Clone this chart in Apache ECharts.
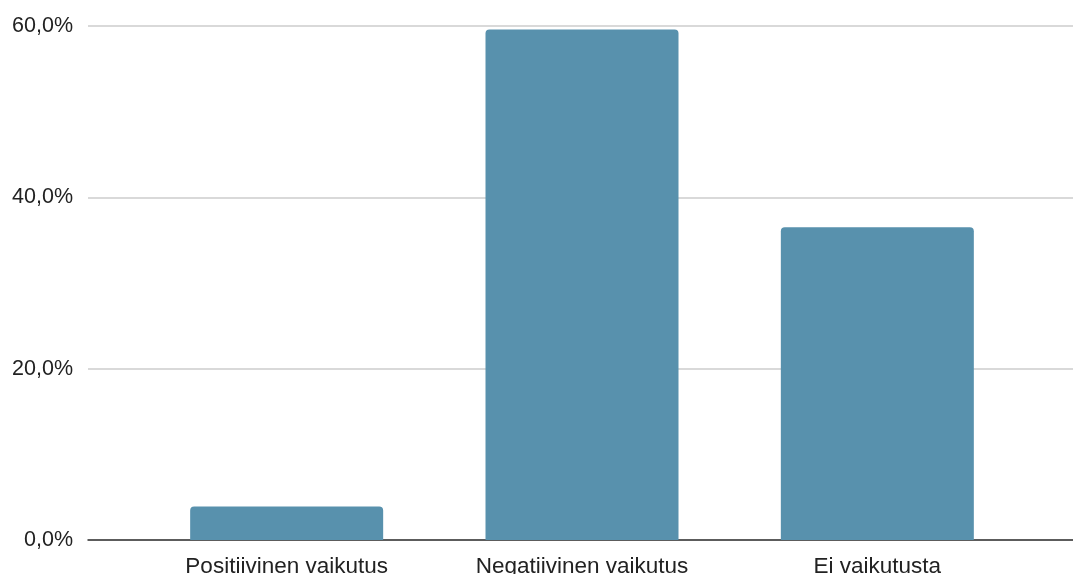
<!DOCTYPE html>
<html>
<head>
<meta charset="utf-8">
<script src="https://cdn.jsdelivr.net/npm/echarts@6/dist/echarts.min.js"></script>
<style>
  html, body { margin: 0; padding: 0; background: #fff; }
  #chart { width: 1073px; height: 574px; }
</style>
</head>
<body>
<div id="chart"></div>
<script>
// Survey answers: share of respondents per impact category
const categories = ['Positiivinen vaikutus', 'Negatiivinen vaikutus', 'Ei vaikutusta'];
const shares = [3.9, 59.6, 36.5];
const yTicks = [0, 20, 40, 60];

const fontFamily = 'Liberation Sans, Arial, sans-serif';
const fmt = v => v.toFixed(1).replace('.', ',') + '%';

const chart = echarts.init(document.getElementById('chart'));
chart.setOption({
  animation: false,
  backgroundColor: '#fff',
  grid: [
    // wide grid carries the value scale, gridlines and baseline
    { left: 88, right: 0, top: 26, bottom: 34, outerBoundsMode: 'none', containLabel: false },
    // inner grid holds the category bands and bars
    { left: 139, right: 48, top: 26, bottom: 34, outerBoundsMode: 'none', containLabel: false }
  ],
  xAxis: [
    {
      gridIndex: 0, type: 'value', min: 0, max: 1,
      axisLine: { show: true, lineStyle: { color: '#333', width: 1.5 } },
      axisTick: { show: false }, axisLabel: { show: false }, splitLine: { show: false }
    },
    {
      gridIndex: 1, type: 'category', data: categories,
      axisLine: { show: false }, axisTick: { show: false },
      axisLabel: { color: '#222', fontSize: 22.5, fontFamily, margin: 15 }
    }
  ],
  yAxis: [
    {
      gridIndex: 0, type: 'value', min: yTicks[0], max: yTicks[yTicks.length - 1], interval: 20,
      axisLine: { show: false }, axisTick: { show: false },
      axisLabel: { color: '#222', fontSize: 21.5, fontFamily, margin: 15, formatter: fmt },
      splitLine: { show: true, lineStyle: { color: '#cccccc', width: 1.5 } }
    },
    {
      gridIndex: 1, type: 'value', min: yTicks[0], max: yTicks[yTicks.length - 1],
      show: false, splitLine: { show: false }
    }
  ],
  series: [{
    type: 'bar',
    xAxisIndex: 1, yAxisIndex: 1,
    data: shares,
    barWidth: 193,
    itemStyle: { color: '#5891ad', borderRadius: [4, 4, 0, 0] },
    z: 3
  }]
});
</script>
</body>
</html>
